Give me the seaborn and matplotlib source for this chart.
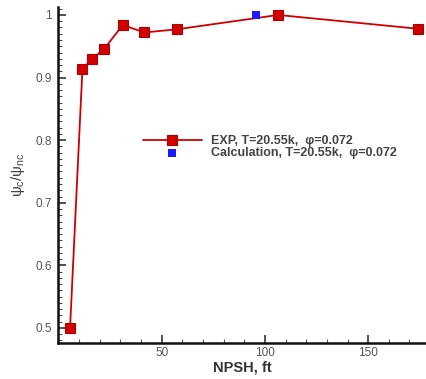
import matplotlib
matplotlib.use("Agg")
import matplotlib.pyplot as plt
import seaborn as sns
import pandas as pd
from matplotlib.ticker import MultipleLocator

# Data
npsh_exp = [5.6, 11.6, 16.1, 22.2, 31.1, 41.6, 57.2, 106.4, 174.1]
psi_exp = [0.500, 0.914, 0.929, 0.946, 0.984, 0.972, 0.977, 1.000, 0.978]
npsh_calc = [95.5]
psi_calc = [1.000]
exp_label = "EXP, T=20.55k,  φ=0.072"
calc_label = "Calculation, T=20.55k,  φ=0.072"

sns.set_style("ticks")
plt.rcParams['font.family'] = ['Liberation Sans', 'DejaVu Sans']
plt.rcParams['mathtext.fontset'] = 'custom'
plt.rcParams['mathtext.rm'] = 'Liberation Sans'
plt.rcParams['mathtext.it'] = 'Liberation Sans'

fig = plt.figure(figsize=(4.27, 3.79), dpi=100)
ax = fig.add_axes([0.137, 0.095, 0.862, 0.887])

df_exp = pd.DataFrame({"NPSH": npsh_exp, "psi": psi_exp})
df_calc = pd.DataFrame({"NPSH": npsh_calc, "psi": psi_calc})

sns.lineplot(data=df_exp, x="NPSH", y="psi", ax=ax, color="#d00000",
             linewidth=1.3, marker="s", markersize=6.5, markeredgecolor="#b00000",
             markeredgewidth=0.8, label=exp_label, sort=False)
sns.scatterplot(data=df_calc, x="NPSH", y="psi", ax=ax, color="#1a1aff",
                marker="s", s=40, edgecolor="#1a1aff", linewidth=0, label=calc_label,
                zorder=3)

ax.set_xlim(0, 178.3)
ax.set_ylim(0.476, 1.013)
ax.xaxis.set_minor_locator(MultipleLocator(10))
ax.yaxis.set_minor_locator(MultipleLocator(0.01))
ax.set_xticks([50, 100, 150])
ax.set_yticks([0.5, 0.6, 0.7, 0.8, 0.9, 1.0])
ax.set_yticklabels(["0.5", "0.6", "0.7", "0.8", "0.9", "1"])

ax.tick_params(which="major", direction="in", length=6, width=1.2, labelsize=8.5,
               labelcolor="#555555", color="#333333")
ax.tick_params(which="minor", direction="in", length=3, width=0.8, color="#555555")
ax.tick_params(axis="x", which="major", pad=3)
ax.tick_params(axis="y", which="major", pad=5)

for side in ["top", "right"]:
    ax.spines[side].set_visible(False)
for side in ["left", "bottom"]:
    ax.spines[side].set_linewidth(1.8)
    ax.spines[side].set_color("#111111")

ax.set_xlabel("NPSH, ft", fontsize=10.5, fontweight="bold", color="#333333", labelpad=1)
ax.set_ylabel(r"$\psi_c/\psi_{nc}$", fontsize=11, color="#444444", labelpad=6)

leg = ax.legend(loc="upper left", bbox_to_anchor=(143 / 427, 1 - 135 / 379),
                bbox_transform=fig.transFigure, frameon=False, handlelength=4.7,
                handletextpad=0.75, labelspacing=0.0, borderpad=0, borderaxespad=0,
                prop={"weight": "bold", "size": 9})
for t in leg.get_texts():
    t.set_color("#444444")

fig.savefig("out.png", dpi=100)
